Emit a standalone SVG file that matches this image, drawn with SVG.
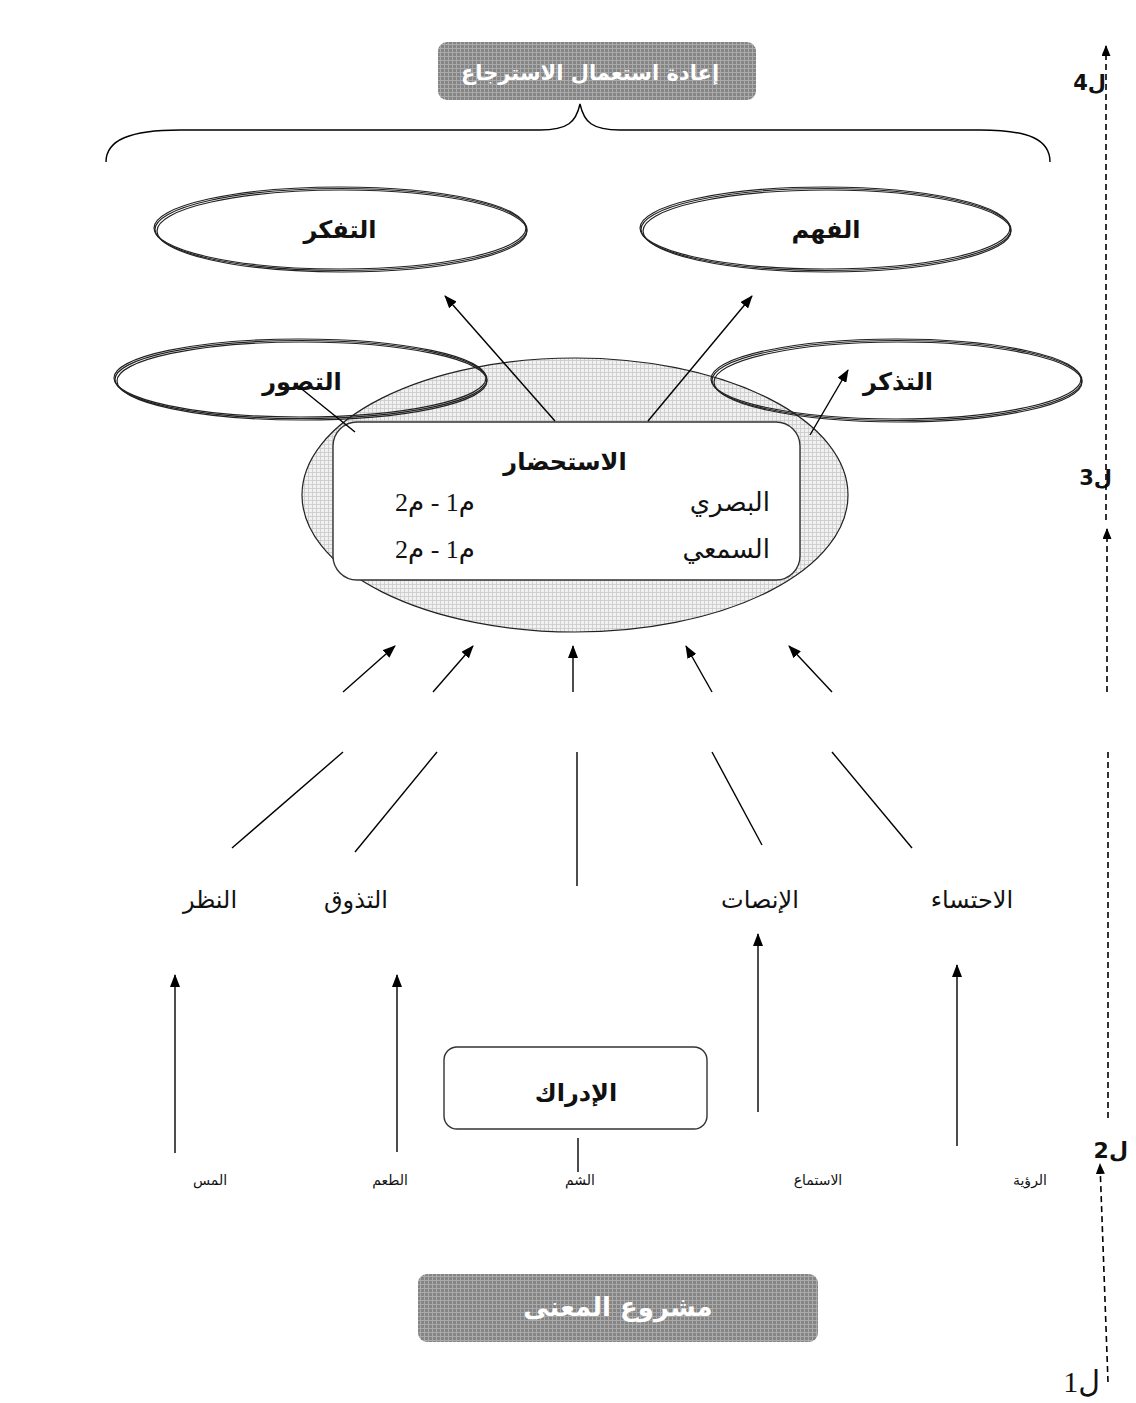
<svg xmlns="http://www.w3.org/2000/svg" width="1136" height="1403" viewBox="0 0 1136 1403">
  <defs>
    <pattern id="grid-dark" width="4" height="4" patternUnits="userSpaceOnUse">
      <rect width="4" height="4" fill="#858585"/>
      <path d="M0 0.5H4M0.5 0V4" stroke="#aaaaaa" stroke-width="1"/>
    </pattern>
    <pattern id="grid-light" width="4" height="4" patternUnits="userSpaceOnUse">
      <rect width="4" height="4" fill="#f1f1f1"/>
      <path d="M0 0.5H4M0.5 0V4" stroke="#c9c9c9" stroke-width="0.8"/>
    </pattern>
    <marker id="arrow" viewBox="0 0 13 10" refX="12" refY="5" markerWidth="13" markerHeight="10" markerUnits="userSpaceOnUse" orient="auto">
      <path d="M0,0 L13,5 L0,10 z" fill="#000"/>
    </marker>
    <marker id="arrow-small" viewBox="0 0 11 9" refX="10" refY="4.5" markerWidth="11" markerHeight="9" markerUnits="userSpaceOnUse" orient="auto">
      <path d="M0,0 L11,4.5 L0,9 z" fill="#000"/>
    </marker>
  </defs>
  <style>
    .bold { font-family: "DejaVu Sans", "Liberation Sans", sans-serif; font-weight: bold; fill: #111; }
    .serif { font-family: "Liberation Serif", "DejaVu Serif", "DejaVu Sans", serif; fill: #111; }
    .banner { font-family: "DejaVu Sans", "Liberation Sans", sans-serif; font-weight: bold; fill: #fff; }
    .oval { fill: none; stroke: #222; stroke-width: 1.2; }
    .line { stroke: #000; stroke-width: 1.4; fill: none; }
    .dash { stroke: #000; stroke-width: 1.6; fill: none; stroke-dasharray: 6 4; }
    .box { fill: #fff; stroke: #333; stroke-width: 1.4; }
    .mid { text-anchor: middle; }
  </style>

  <rect width="1136" height="1403" fill="#fff"/>

  <!-- banner: reuse of retrieval -->
  <g id="node-reuse">
    <rect x="438" y="42" width="318" height="58" rx="9" fill="url(#grid-dark)"/>
    <text class="banner mid" x="590" y="80" font-size="21">إعادة استعمال الاسترجاع</text>
  </g>

  <!-- brace grouping the upper processes -->
  <g id="brace">
    <path class="line" d="M106,162 C106,140 130,130 180,130 L540,130 C568,130 576,122 580,104 C584,122 592,130 620,130 L980,130 C1030,130 1050,140 1050,162"/>
  </g>

  <!-- evocation area (hatched ellipse) -->
  <g id="node-evocation-area">
    <ellipse cx="575" cy="495" rx="273" ry="137" fill="url(#grid-light)" stroke="#222" stroke-width="1.2"/>
  </g>

  <g id="node-reflection">
    <ellipse class="oval" cx="340" cy="228" rx="186" ry="41"/>
    <ellipse class="oval" cx="341" cy="229.5" rx="186" ry="41"/>
    <ellipse class="oval" cx="342" cy="231" rx="185" ry="41" stroke-width="1.6"/>
    <text class="bold mid" x="340" y="238" font-size="24">التفكر</text>
  </g>

  <g id="node-understanding">
    <ellipse class="oval" cx="825" cy="228" rx="185" ry="41"/>
    <ellipse class="oval" cx="826" cy="229.5" rx="185" ry="41"/>
    <ellipse class="oval" cx="827" cy="231" rx="184" ry="41" stroke-width="1.6"/>
    <text class="bold mid" x="826" y="238" font-size="24">الفهم</text>
  </g>

  <g id="node-imagination">
    <ellipse class="oval" cx="300" cy="378" rx="186" ry="39"/>
    <ellipse class="oval" cx="301" cy="379.5" rx="186" ry="39"/>
    <ellipse class="oval" cx="302" cy="381" rx="185" ry="39" stroke-width="1.6"/>
    <text class="bold mid" x="302" y="390" font-size="24">التصور</text>
  </g>

  <g id="node-remembering">
    <ellipse class="oval" cx="896" cy="379" rx="185" ry="40"/>
    <ellipse class="oval" cx="897" cy="380.5" rx="185" ry="40"/>
    <ellipse class="oval" cx="898" cy="382" rx="184" ry="40" stroke-width="1.6"/>
    <text class="bold mid" x="898" y="390" font-size="24">التذكر</text>
  </g>

  <!-- evocation box -->
  <g id="node-evocation">
    <rect class="box" x="333" y="422" width="467" height="158" rx="24"/>
    <text class="bold mid" x="565" y="470" font-size="24">الاستحضار</text>
    <text class="serif" x="770" y="511" font-size="26" text-anchor="end">البصري</text>
    <text class="serif mid" x="435" y="511" font-size="26" direction="rtl">م1 - م2</text>
    <text class="serif" x="770" y="558" font-size="26" text-anchor="end">السمعي</text>
    <text class="serif mid" x="435" y="558" font-size="26" direction="rtl">م1 - م2</text>
  </g>

  <!-- perception modes -->
  <g id="node-looking"><text class="serif mid" x="210" y="908" font-size="24">النظر</text></g>
  <g id="node-tasting"><text class="serif mid" x="356" y="908" font-size="24">التذوق</text></g>
  <g id="node-listening"><text class="serif mid" x="760" y="908" font-size="24">الإنصات</text></g>
  <g id="node-sipping"><text class="serif mid" x="972" y="908" font-size="24">الاحتساء</text></g>

  <g id="node-perception">
    <rect class="box" x="444" y="1047" width="263" height="82" rx="13"/>
    <text class="bold mid" x="576" y="1101" font-size="24">الإدراك</text>
  </g>

  <!-- senses -->
  <g id="node-touch"><text class="serif mid" x="210" y="1185" font-size="14">المس</text></g>
  <g id="node-taste"><text class="serif mid" x="390" y="1185" font-size="14">الطعم</text></g>
  <g id="node-smell"><text class="serif mid" x="580" y="1185" font-size="14">الشم</text></g>
  <g id="node-hearing"><text class="serif mid" x="818" y="1185" font-size="14">الاستماع</text></g>
  <g id="node-sight"><text class="serif mid" x="1030" y="1185" font-size="14">الرؤية</text></g>

  <!-- banner: meaning project -->
  <g id="node-meaning">
    <rect x="418" y="1274" width="400" height="68" rx="9" fill="url(#grid-dark)"/>
    <text class="banner mid" x="618" y="1316" font-size="26">مشروع المعنى</text>
  </g>

  <!-- level labels (right edge anchored) -->
  <g id="levels">
    <text class="bold" x="1106" y="90" font-size="21" text-anchor="start" direction="rtl">ل4</text>
    <text class="bold" x="1112" y="485" font-size="21" text-anchor="start" direction="rtl">ل3</text>
    <text class="bold" x="1128" y="1158" font-size="22" text-anchor="start" direction="rtl">ل2</text>
    <text class="serif" x="1100" y="1392" font-size="30" text-anchor="start" direction="rtl">ل1</text>
  </g>

  <g id="connectors">
    <!-- from the evocation box up to the upper processes -->
    <line class="line" x1="555" y1="421" x2="445" y2="296" marker-end="url(#arrow)"/>
    <line class="line" x1="648" y1="421" x2="752" y2="296" marker-end="url(#arrow)"/>
    <line class="line" x1="810" y1="435" x2="848" y2="370" marker-end="url(#arrow)"/>
    <line class="line" x1="355" y1="432" x2="298" y2="386"/>

    <!-- perception modes feeding the evocation (upper segments) -->
    <line class="line" x1="343" y1="692" x2="395" y2="646" marker-end="url(#arrow)"/>
    <line class="line" x1="433" y1="692" x2="473" y2="646" marker-end="url(#arrow)"/>
    <line class="line" x1="573" y1="692" x2="573" y2="646" marker-end="url(#arrow)"/>
    <line class="line" x1="712" y1="692" x2="686" y2="646" marker-end="url(#arrow)"/>
    <line class="line" x1="832" y1="692" x2="789" y2="646" marker-end="url(#arrow)"/>

    <!-- lower segments -->
    <line class="line" x1="232" y1="848" x2="343" y2="752"/>
    <line class="line" x1="355" y1="852" x2="437" y2="752"/>
    <line class="line" x1="577" y1="886" x2="577" y2="752"/>
    <line class="line" x1="762" y1="845" x2="712" y2="752"/>
    <line class="line" x1="912" y1="848" x2="832" y2="752"/>

    <!-- senses up to perception modes -->
    <line class="line" x1="175" y1="1153" x2="175" y2="975" marker-end="url(#arrow)"/>
    <line class="line" x1="397" y1="1152" x2="397" y2="975" marker-end="url(#arrow)"/>
    <line class="line" x1="758" y1="1112" x2="758" y2="934" marker-end="url(#arrow)"/>
    <line class="line" x1="957" y1="1146" x2="957" y2="965" marker-end="url(#arrow)"/>
    <line class="line" x1="578" y1="1138" x2="578" y2="1172"/>

    <!-- level axis -->
    <line class="dash" x1="1106" y1="520" x2="1106" y2="46" marker-end="url(#arrow-small)"/>
    <line class="dash" x1="1107" y1="692" x2="1107" y2="529" marker-end="url(#arrow-small)"/>
    <line class="dash" x1="1108" y1="1118" x2="1108" y2="752"/>
    <line class="dash" x1="1108" y1="1382" x2="1100" y2="1164" marker-end="url(#arrow-small)"/>
  </g>
</svg>
